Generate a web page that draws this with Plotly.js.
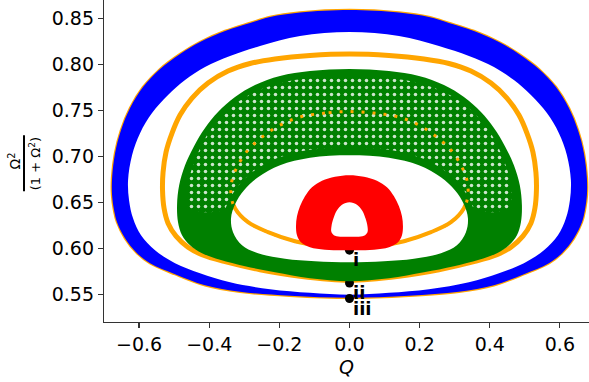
<!DOCTYPE html>
<html>
<head>
<meta charset="utf-8">
<script src="https://cdn.plot.ly/plotly-3.0.1.min.js"></script>
<style>
  html, body { margin: 0; padding: 0; background: #fff; }
  #chart { width: 589px; height: 382px; }
</style>
</head>
<body>
<div id="chart"></div>
<script>
// Half-profiles (Q <= 0 side) of each orbit, listed from the top of the loop (Q = 0)
// round the left side down to the bottom (Q = 0). The orbits are symmetric in Q.

// Outer orbit (iii): blue band
const blueOuterQ = [0, -0.1411, -0.2266, -0.2836, -0.3549, -0.4262, -0.4832, -0.5402, -0.5887, -0.6257, -0.6514, -0.6685, -0.6770, -0.6770, -0.6713, -0.6628, -0.6400, -0.6058, -0.5687, -0.4974, -0.4119, -0.3121, -0.1696, 0];
const blueOuterY = [0.8590, 0.8563, 0.8514, 0.8449, 0.8362, 0.8242, 0.8112, 0.7949, 0.7753, 0.7525, 0.7286, 0.7036, 0.6764, 0.6579, 0.6416, 0.6286, 0.6112, 0.5949, 0.5840, 0.5721, 0.5601, 0.5530, 0.5487, 0.5465];
const blueInnerQ = [0, -0.1411, -0.2551, -0.3406, -0.4119, -0.4689, -0.5174, -0.5630, -0.5972, -0.6200, -0.6314, -0.6286, -0.6172, -0.5944, -0.5545, -0.4974, -0.4262, -0.3406, -0.2266, -0.1126, 0];
const blueInnerY = [0.8351, 0.8308, 0.8199, 0.8090, 0.7971, 0.7829, 0.7666, 0.7471, 0.7253, 0.7014, 0.6742, 0.6525, 0.6329, 0.6144, 0.5982, 0.5840, 0.5732, 0.5634, 0.5558, 0.5519, 0.5498];

// Orange orbit: outer loop and inner loop (centre lines)
const orangeAQ = [0, -0.1126, -0.2124, -0.2836, -0.3464, -0.4034, -0.4490, -0.4832, -0.5060, -0.5231, -0.5316, -0.5331, -0.5288, -0.5174, -0.4946, -0.4604, -0.4205, -0.3549, -0.2551, -0.1411, 0];
const orangeAY = [0.8112, 0.8096, 0.8058, 0.8009, 0.7927, 0.7797, 0.7634, 0.7449, 0.7253, 0.7047, 0.6829, 0.6634, 0.6438, 0.6275, 0.6134, 0.6014, 0.5933, 0.5857, 0.5770, 0.5699, 0.5655];
const orangeBQ = [0, -0.0698, -0.1411, -0.1981, -0.2494, -0.2893, -0.3178, -0.3349, -0.3378, -0.3264, -0.2893, -0.2323, -0.1554, -0.0841, 0];
const orangeBY = [0.7487, 0.7471, 0.7427, 0.7340, 0.7210, 0.7069, 0.6905, 0.6742, 0.6579, 0.6438, 0.6286, 0.6178, 0.6079, 0.6030, 0.6009];

// Middle orbit (ii): green band, plus the crescent where its windings leave gaps
const greenOuterQ = [0, -0.1126, -0.1981, -0.2694, -0.3264, -0.3749, -0.4119, -0.4433, -0.4689, -0.4857, -0.4917, -0.4889, -0.4775, -0.4547, -0.4205, -0.3691, -0.2979, -0.2124, -0.1126, 0];
const greenOuterY = [0.7949, 0.7927, 0.7873, 0.7775, 0.7645, 0.7482, 0.7308, 0.7112, 0.6905, 0.6688, 0.6471, 0.6286, 0.6145, 0.6036, 0.5949, 0.5878, 0.5808, 0.5742, 0.5677, 0.5645];
const greenInnerQ = [0, -0.1126, -0.1981, -0.2608, -0.3007, -0.3264, -0.3378, -0.3321, -0.3064, -0.2608, -0.1839, -0.0983, 0];
const greenInnerY = [0.7014, 0.6987, 0.6905, 0.6775, 0.6634, 0.6482, 0.6329, 0.6178, 0.6036, 0.5949, 0.5889, 0.5862, 0.5851];
const greenMeshQ = [0, -0.1126, -0.1981, -0.2694, -0.3264, -0.3691, -0.4062, -0.4347, -0.4547, -0.4632, -0.4547, -0.4148, -0.3578, -0.3464, -0.3207, -0.2779, -0.2124, -0.1183, 0];
const greenMeshY = [0.7873, 0.7851, 0.7797, 0.7699, 0.7568, 0.7416, 0.7231, 0.7014, 0.6797, 0.6579, 0.6440, 0.6395, 0.6420, 0.6503, 0.6666, 0.6829, 0.6971, 0.7069, 0.7091];

// Inner orbit (i): red band
const redOuterQ = [0, -0.0413, -0.0784, -0.1069, -0.1269, -0.1411, -0.1497, -0.1525, -0.1497, -0.1383, -0.1126, -0.0698, 0];
const redOuterY = [0.6797, 0.6780, 0.6737, 0.6666, 0.6568, 0.6460, 0.6351, 0.6242, 0.6145, 0.6068, 0.6014, 0.5987, 0.5981];
const redInnerQ = [0, -0.0214, -0.0356, -0.0456, -0.0513, -0.0513, -0.0413, -0.0214, 0];
const redInnerY = [0.6503, 0.6476, 0.6416, 0.6329, 0.6242, 0.6178, 0.6139, 0.6128, 0.6128];

// Initial conditions of the three orbits
const startLabels = ['i', 'ii', 'iii'];
const startQ = [0, 0, 0];
const startY = [0.5982, 0.5626, 0.5457];

// Closed loop from a half-profile: left half, then its mirror back up the right side.
function loop(qHalf, yHalf) {
  const q = qHalf.slice(), y = yHalf.slice();
  for (let i = qHalf.length - 2; i >= 0; i--) {
    q.push(-qHalf[i]);
    y.push(yHalf[i]);
  }
  return { q, y };
}

// Annulus: outer loop plus reversed inner loop, so the inner part stays empty.
function band(oq, oy, iq, iy) {
  const o = loop(oq, oy), n = loop(iq, iy);
  return {
    q: o.q.concat([null], n.q.slice().reverse()),
    y: o.y.concat([null], n.y.slice().reverse())
  };
}

const blue = band(blueOuterQ, blueOuterY, blueInnerQ, blueInnerY);
const green = band(greenOuterQ, greenOuterY, greenInnerQ, greenInnerY);
const red = band(redOuterQ, redOuterY, redInnerQ, redInnerY);
const mesh = loop(greenMeshQ, greenMeshY);
const blueEdge = loop(blueOuterQ, blueOuterY);
const orA = loop(orangeAQ, orangeAY);
const orB = loop(orangeBQ, orangeBY);

const ORANGE = '#FFA500', BLUE = '#0000FF', GREEN = '#008000', RED = '#FF0000';

const traces = [
  { x: blueEdge.q, y: blueEdge.y, mode: 'lines', line: { color: ORANGE, width: 2.5, shape: 'spline' }, hoverinfo: 'skip' },
  { x: orA.q, y: orA.y, mode: 'lines', line: { color: ORANGE, width: 5, shape: 'spline' }, hoverinfo: 'skip' },
  { x: orB.q, y: orB.y, mode: 'lines', line: { color: ORANGE, width: 4, shape: 'spline' }, hoverinfo: 'skip' },
  { x: blue.q, y: blue.y, mode: 'lines', fill: 'toself', fillcolor: BLUE, line: { width: 0, shape: 'spline' }, hoverinfo: 'skip' },
  { x: startQ, y: startY, mode: 'markers', marker: { color: '#000', size: 9 }, hoverinfo: 'skip' },
  { x: green.q, y: green.y, mode: 'lines', fill: 'toself', fillcolor: GREEN, line: { width: 0, shape: 'spline' }, hoverinfo: 'skip' },
  { x: mesh.q, y: mesh.y, mode: 'lines', fill: 'toself', fillcolor: GREEN,
    fillpattern: { shape: '.', bgcolor: GREEN, fgcolor: '#ffffff', fgopacity: 0.8, size: 7, solidity: 0.2 },
    line: { width: 0, shape: 'spline', smoothing: 0.8 }, hoverinfo: 'skip' },
  // the orange orbit shows through the gaps of the green windings
  { x: orB.q, y: orB.y, mode: 'lines', line: { color: ORANGE, width: 3, dash: '3px,8px', shape: 'spline' }, hoverinfo: 'skip' },
  { x: red.q, y: red.y, mode: 'lines', fill: 'toself', fillcolor: RED, line: { width: 0, shape: 'spline' }, hoverinfo: 'skip' }
];

const annotations = startLabels.map((t, k) => ({
  x: startQ[k] + 0.008, y: startY[k], xref: 'x', yref: 'y',
  text: '<b>' + t + '</b>', showarrow: false, xanchor: 'left', yanchor: 'top',
  font: { size: 18, color: '#000' }, yshift: 2, borderpad: 0
}));

// y-axis label: Ω² / (1 + Ω²), drawn rotated with a fraction bar
annotations.push({
  x: -0.1845, y: 0.50, xref: 'paper', yref: 'paper', text: 'Ω<sup>2</sup>',
  showarrow: false, textangle: -90, xanchor: 'center', yanchor: 'middle', font: { size: 14 }
});
annotations.push({
  x: -0.1423, y: 0.493, xref: 'paper', yref: 'paper', text: '(1 + Ω<sup>2</sup>)',
  showarrow: false, textangle: -90, xanchor: 'center', yanchor: 'middle', font: { size: 13 }
});

const layout = {
  width: 589, height: 382,
  margin: { l: 104, r: 0, t: 0, b: 60, pad: 0 },
  paper_bgcolor: '#fff', plot_bgcolor: '#fff',
  showlegend: false,
  font: { family: 'DejaVu Sans', size: 19, color: '#000' },
  xaxis: {
    range: [-0.70, 0.683], tickvals: [-0.6, -0.4, -0.2, 0, 0.2, 0.4, 0.6], tickformat: '.1f',
    showgrid: false, zeroline: false, showline: true, linecolor: '#333', linewidth: 1.2,
    ticks: 'outside', ticklen: 5, tickwidth: 1.2, tickcolor: '#333',
    title: { text: '<i>Q</i>', font: { size: 19 }, standoff: 6 }
  },
  yaxis: {
    range: [0.5202, 0.8699], tickvals: [0.55, 0.60, 0.65, 0.70, 0.75, 0.80, 0.85], tickformat: '.2f',
    showgrid: false, zeroline: false, showline: true, linecolor: '#333', linewidth: 1.2,
    ticks: 'outside', ticklen: 5, tickwidth: 1.2, tickcolor: '#333'
  },
  shapes: [{
    type: 'line', xref: 'paper', yref: 'paper', x0: -0.165, x1: -0.165, y0: 0.406, y1: 0.580,
    line: { color: '#000', width: 2 }
  }],
  annotations
};

Plotly.newPlot('chart', traces, layout, { staticPlot: true, displayModeBar: false });
</script>
</body>
</html>
